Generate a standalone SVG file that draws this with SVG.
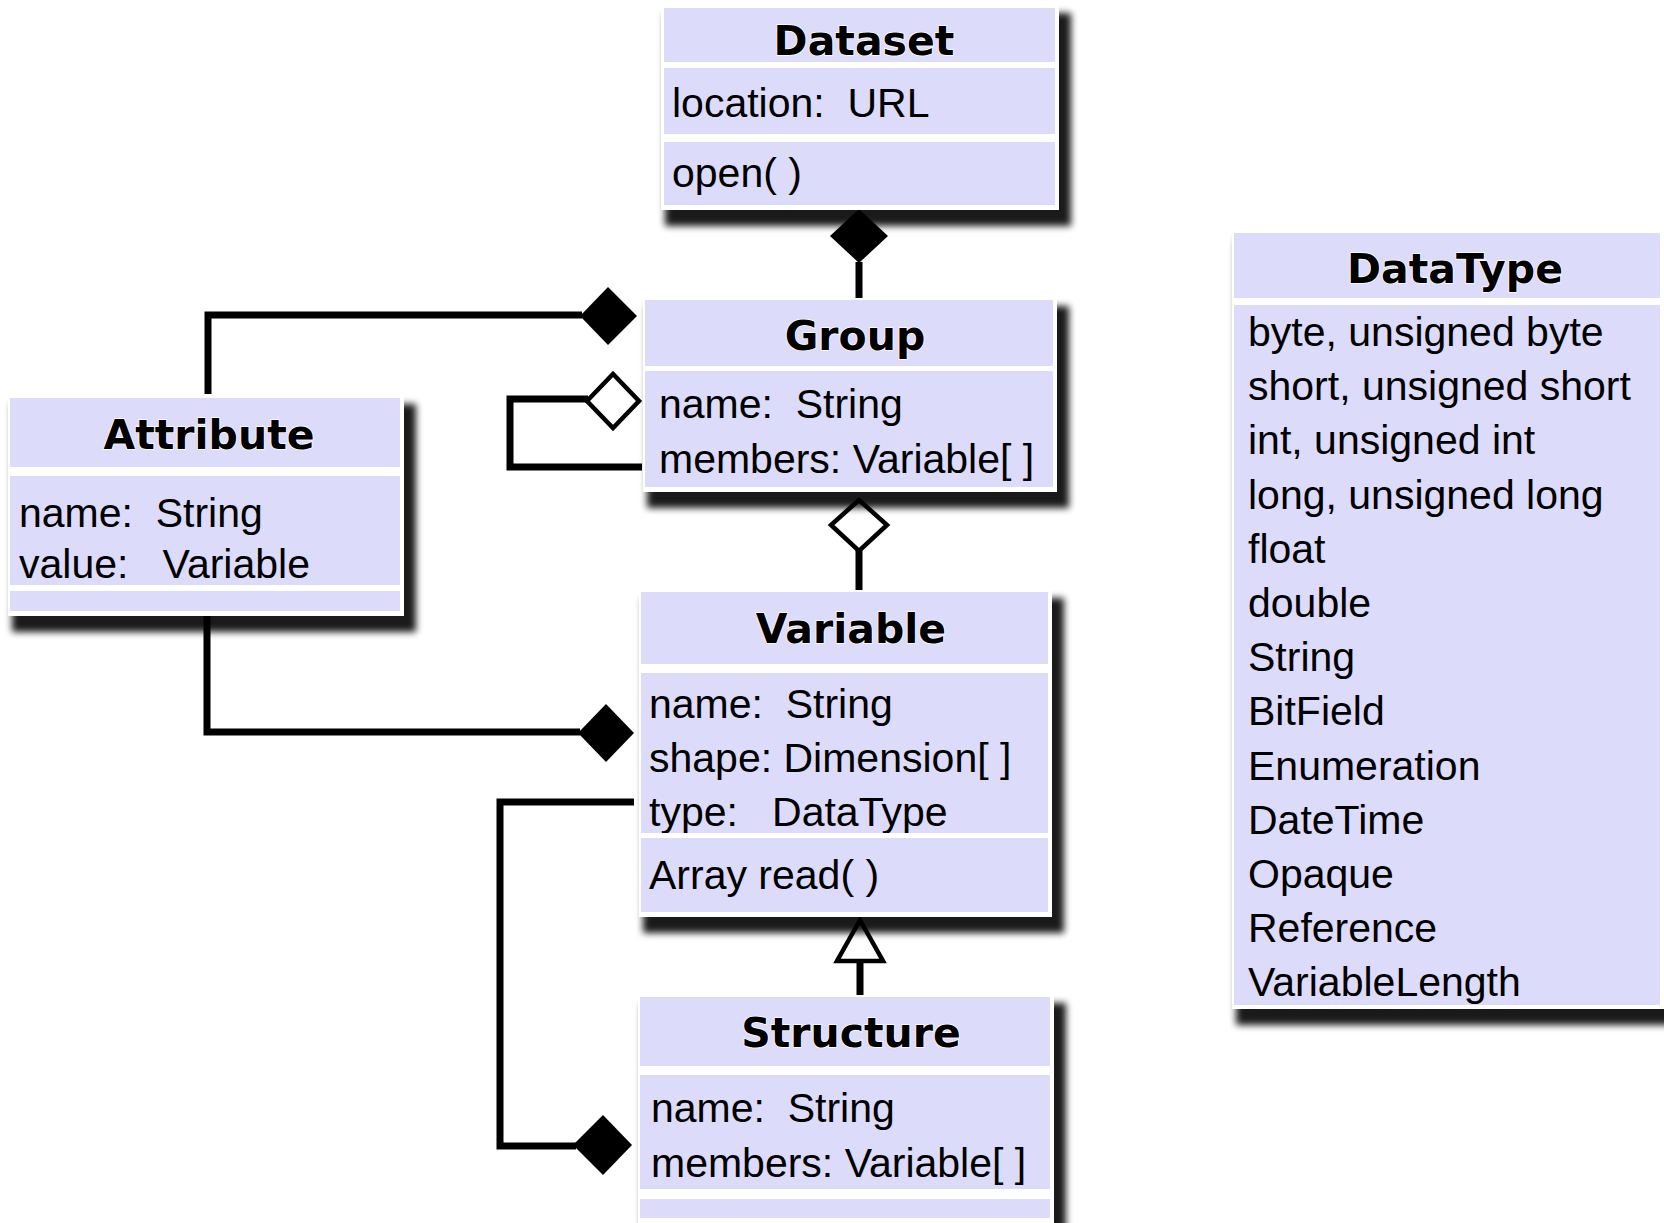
<svg xmlns="http://www.w3.org/2000/svg" width="1664" height="1223" viewBox="0 0 1664 1223">
<defs>
<filter id="sh" x="-10%" y="-10%" width="125%" height="125%">
<feMorphology in="SourceAlpha" operator="dilate" radius="4"/>
<feOffset dx="8" dy="12"/>
<feGaussianBlur stdDeviation="3.5"/>
<feComponentTransfer><feFuncA type="linear" slope="0.9"/></feComponentTransfer>
<feMerge><feMergeNode/><feMergeNode in="SourceGraphic"/></feMerge>
</filter>
<style>
.bg{fill:#ffffff;filter:url(#sh)}
.c{fill:#dddbfa}
.t{font-family:"DejaVu Sans",sans-serif;font-weight:bold;font-size:41px;text-anchor:middle;fill:#000;stroke:#fff;stroke-width:1.5px;paint-order:stroke}
.a{font-family:"Liberation Sans",Arial,sans-serif;font-size:41px;fill:#000;white-space:pre}
.ln{fill:none;stroke:#000;stroke-width:7;stroke-linejoin:miter;stroke-linecap:butt}
.fd{fill:#000;stroke:none}
.hd{fill:#fff;stroke:#000;stroke-width:4.5;stroke-linejoin:miter}
</style>
</defs>
<rect width="1664" height="1223" fill="#fff"/>

<g id="connectors">
<line class="ln" x1="859" y1="262" x2="859" y2="300"/>
<polygon class="fd" points="859,209 888,236 859,263 830,236"/>
<polyline class="ln" points="208,394 208,315 582,315"/>
<polygon class="fd" points="580,316 608,287 637,316 608,345"/>
<polyline class="ln" points="588,399 510,399 510,467 642,467"/>
<polygon class="hd" points="587,401 613,374 639,401 613,428"/>
<line class="ln" x1="859" y1="550" x2="859" y2="592"/>
<polygon class="hd" points="859,500 887,525 859,551 831,525"/>
<polyline class="ln" points="207,614 207,732 580,732"/>
<polygon class="fd" points="578,733 606,704 634,733 606,762"/>
<polyline class="ln" points="634,802 500,802 500,1146 576,1146"/>
<polygon class="fd" points="573,1145 603,1115 632,1145 603,1175"/>
<line class="ln" x1="860" y1="960" x2="860" y2="996"/>
<polygon class="hd" points="860,920 883,961 837,961"/>
</g>

<g id="dataset">
<rect class="bg" x="661" y="5" width="398" height="205"/>
<rect class="c" x="664" y="8" width="391" height="54"/>
<rect class="c" x="664" y="68" width="391" height="66"/>
<rect class="c" x="664" y="142" width="391" height="63"/>
<text class="t" x="864" y="55">Dataset</text>
<text class="a" x="672" y="117" xml:space="preserve">location:  URL</text>
<text class="a" x="672" y="187">open( )</text>
</g>

<g id="group">
<rect class="bg" x="643" y="298" width="414" height="194"/>
<rect class="c" x="645" y="300" width="408" height="66"/>
<rect class="c" x="645" y="371" width="408" height="116"/>
<text class="t" x="855" y="350">Group</text>
<text class="a" x="659" y="418" xml:space="preserve">name:  String</text>
<text class="a" x="659" y="473">members: Variable[ ]</text>
</g>

<g id="attribute">
<rect class="bg" x="8" y="396" width="396" height="220"/>
<rect class="c" x="10" y="398" width="390" height="69"/>
<rect class="c" x="10" y="476" width="390" height="109"/>
<text class="t" x="209" y="449">Attribute</text>
<text class="a" x="19" y="527" xml:space="preserve">name:  String</text>
<text class="a" x="19" y="578" xml:space="preserve">value:   Variable</text>
<rect x="10" y="585" width="390" height="6" fill="#fff"/>
<rect class="c" x="10" y="591" width="390" height="20"/>
</g>

<g id="variable">
<rect class="bg" x="639" y="590" width="413" height="327"/>
<rect class="c" x="641" y="592" width="407" height="72"/>
<rect class="c" x="641" y="673" width="407" height="160"/>
<text class="t" x="851" y="643">Variable</text>
<text class="a" x="649" y="718" xml:space="preserve">name:  String</text>
<text class="a" x="649" y="772">shape: Dimension[ ]</text>
<text class="a" x="649" y="826" xml:space="preserve">type:   DataType</text>
<rect x="641" y="833" width="407" height="5" fill="#fff"/>
<rect class="c" x="641" y="838" width="407" height="74"/>
<text class="a" x="649" y="889">Array read( )</text>
</g>

<g id="structure">
<rect class="bg" x="638" y="995" width="416" height="232"/>
<rect class="c" x="640" y="997" width="410" height="69"/>
<rect class="c" x="640" y="1075" width="410" height="114"/>
<rect class="c" x="640" y="1199" width="410" height="19"/>
<text class="t" x="851" y="1047">Structure</text>
<text class="a" x="651" y="1122" xml:space="preserve">name:  String</text>
<text class="a" x="651" y="1177">members: Variable[ ]</text>
</g>

<g id="datatype">
<rect class="bg" x="1232" y="231" width="432" height="778"/>
<rect class="c" x="1234" y="233" width="426" height="65"/>
<rect class="c" x="1234" y="305" width="426" height="700"/>
<text class="t" x="1455" y="283">DataType</text>
<text class="a" x="1248" y="346">byte, unsigned byte</text>
<text class="a" x="1248" y="400">short, unsigned short</text>
<text class="a" x="1248" y="454">int, unsigned int</text>
<text class="a" x="1248" y="509">long, unsigned long</text>
<text class="a" x="1248" y="563">float</text>
<text class="a" x="1248" y="617">double</text>
<text class="a" x="1248" y="671">String</text>
<text class="a" x="1248" y="725">BitField</text>
<text class="a" x="1248" y="780">Enumeration</text>
<text class="a" x="1248" y="834">DateTime</text>
<text class="a" x="1248" y="888">Opaque</text>
<text class="a" x="1248" y="942">Reference</text>
<text class="a" x="1248" y="996">VariableLength</text>
</g>
</svg>
